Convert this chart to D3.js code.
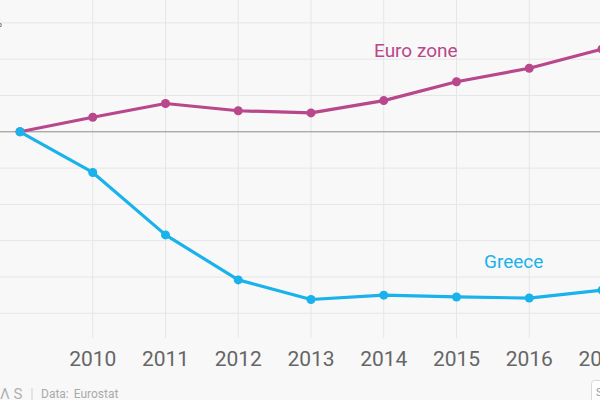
<!DOCTYPE html>
<html>
<head>
<meta charset="utf-8">
<script src="https://cdn.jsdelivr.net/npm/d3@7"></script>
<style>
    body { margin: 0; background: #f8f8f8; }
    svg { display: block; font-family: Roboto, "Open Sans", sans-serif; }
</style>
</head>
<body>
<div id="chart"></div>
<script>
const width = 600;
const height = 400;

const years = [2009, 2010, 2011, 2012, 2013, 2014, 2015, 2016, 2017];
const euroZone = [0, 2.0, 3.9, 2.9, 2.6, 4.3, 6.9, 8.75, 11.4];
const greece = [0, -5.6, -14.2, -20.4, -23.1, -22.5, -22.75, -22.9, -21.8];
const yTicks = [-25, -20, -15, -10, -5, 0, 5, 10, 15];
const xTicks = [2010, 2011, 2012, 2013, 2014, 2015, 2016, 2017];

const euroColor = "#b8478b";
const greeceColor = "#19b2ea";

const svg = d3.select("#chart")
    .append("svg")
    .attr("width", width)
    .attr("height", height);

svg.append("rect")
    .attr("width", width)
    .attr("height", height)
    .attr("fill", "#f8f8f8");

const x = d3.scaleLinear()
    .domain([2009, 2017])
    .range([20, 602]);

const y = d3.scaleLinear()
    .domain([-25, 15])
    .range([313.3, 22.9]);

// GRID
svg.append("g")
    .selectAll("line")
    .data(yTicks.filter(d => d !== 0))
    .enter()
    .append("line")
    .attr("x1", 0)
    .attr("x2", width)
    .attr("y1", d => y(d))
    .attr("y2", d => y(d))
    .attr("stroke", "#e6e6e6")
    .attr("stroke-width", 1);

svg.append("g")
    .selectAll("line")
    .data(xTicks)
    .enter()
    .append("line")
    .attr("x1", d => x(d))
    .attr("x2", d => x(d))
    .attr("y1", 0)
    .attr("y2", 338)
    .attr("stroke", "#e6e6e6")
    .attr("stroke-width", 1);

// ZERO LINE
svg.append("line")
    .attr("x1", 0)
    .attr("x2", width)
    .attr("y1", y(0))
    .attr("y2", y(0))
    .attr("stroke", "#8a8a8a")
    .attr("stroke-width", 1);

// cut-off y label at the left edge
svg.append("text")
    .attr("x", 2)
    .attr("y", y(15) + 4)
    .attr("text-anchor", "end")
    .attr("fill", "#666")
    .style("font-size", "12px")
    .text("15%");

// X AXIS LABELS
svg.append("g")
    .selectAll("text")
    .data(xTicks)
    .enter()
    .append("text")
    .attr("x", d => x(d))
    .attr("y", 366)
    .attr("text-anchor", "middle")
    .attr("fill", "#666")
    .style("font-size", "21px")
    .text(d => d);

// LINES
const series = [
    { name: "Euro zone", values: euroZone, color: euroColor },
    { name: "Greece", values: greece, color: greeceColor }
];

const line = d3.line()
    .x((d, i) => x(years[i]))
    .y(d => y(d));

series.forEach(s => {
    svg.append("path")
        .datum(s.values)
        .attr("fill", "none")
        .attr("stroke", s.color)
        .attr("stroke-width", 3.2)
        .attr("stroke-linejoin", "round")
        .attr("d", line);

    svg.append("g")
        .selectAll("circle")
        .data(s.values)
        .enter()
        .append("circle")
        .attr("cx", (d, i) => x(years[i]))
        .attr("cy", d => y(d))
        .attr("r", 4.5)
        .attr("fill", s.color);
});

// SERIES LABELS
svg.append("text")
    .attr("x", 374)
    .attr("y", 57)
    .attr("fill", euroColor)
    .style("font-size", "19px")
    .text("Euro zone");

svg.append("text")
    .attr("x", 484)
    .attr("y", 268)
    .attr("fill", greeceColor)
    .style("font-size", "19px")
    .text("Greece");

// FOOTER
svg.append("text")
    .attr("x", 0)
    .attr("y", 399)
    .attr("fill", "#b0b0b0")
    .style("font-size", "15px")
    .text("Λ S");

svg.append("line")
    .attr("x1", 32)
    .attr("x2", 32)
    .attr("y1", 388)
    .attr("y2", 400)
    .attr("stroke", "#cfcfcf");

svg.append("text")
    .attr("x", 41)
    .attr("y", 398)
    .attr("fill", "#aaa")
    .style("font-size", "12px")
    .style("word-spacing", "2px")
    .text("Data: Eurostat");

svg.append("rect")
    .attr("x", 591.5)
    .attr("y", 380.5)
    .attr("width", 50)
    .attr("height", 30)
    .attr("rx", 3)
    .attr("fill", "#fff")
    .attr("stroke", "#d8d8d8");

svg.append("text")
    .attr("x", 596)
    .attr("y", 396)
    .attr("fill", "#999")
    .style("font-size", "11px")
    .text("Share");
</script>
</body>
</html>
